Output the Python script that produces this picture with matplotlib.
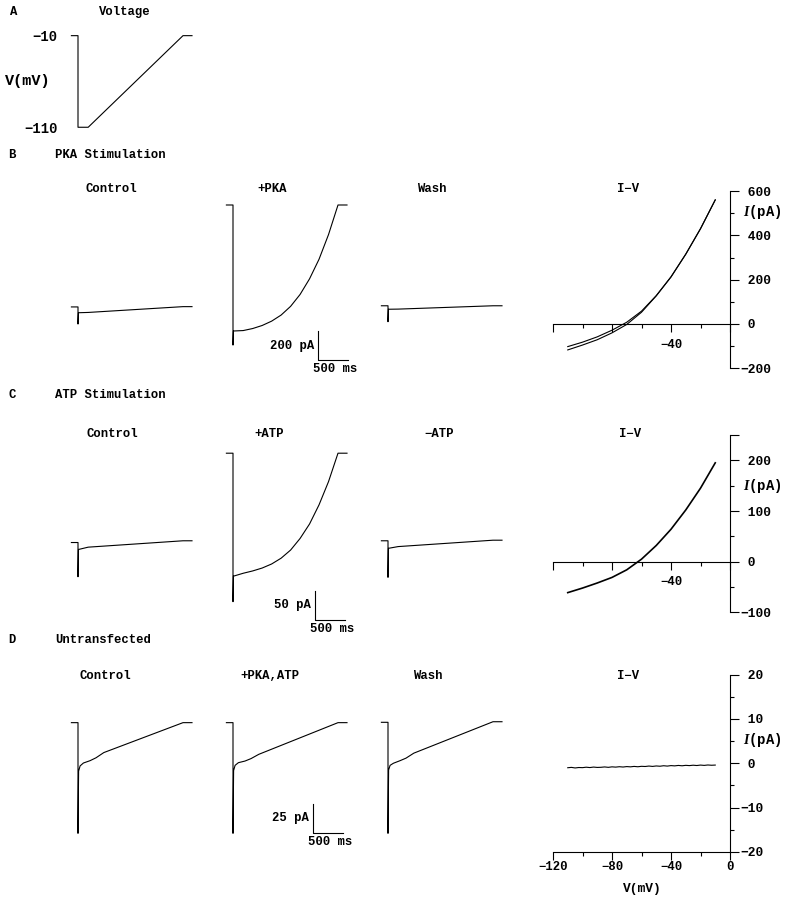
import matplotlib
matplotlib.use("Agg")
import matplotlib.pyplot as plt

W, H = 790, 899
PX_MS = 0.06            # 500 ms = 30 px
T_LO, T_HI = -200, 2000

plt.rcParams["font.family"] = ["Liberation Mono", "DejaVu Sans Mono"]
plt.rcParams["font.size"] = 8.8
plt.rcParams["font.weight"] = "bold"
plt.rcParams["mathtext.fontset"] = "custom"
plt.rcParams["mathtext.it"] = "Liberation Serif:italic:bold"
plt.rcParams["mathtext.rm"] = "Liberation Serif"
plt.rcParams["axes.linewidth"] = 0.8

# A: voltage protocol (ms, mV)
t_volt = [-110, 0, 0, 170, 1750, 1900]
v_volt = [-10, -10, -110, -110, -10, -10]

# current traces: time (ms), current (pA, zero = row baseline)
t_lin = [-110, 0, 0, 8, 170, 1750, 1900]
i_ctrl_b = [166, 166, 48, 126, 128, 168, 168]
i_wash_b = [174, 174, 64, 150, 151, 174, 174]
i_ctrl_c = [56, 56, -3, 44, 48, 59, 59]
i_matp_c = [59, 59, -4, 46, 49, 60, 60]

t_curve = [-110, 0, 0, 8, 170, 328, 486, 644, 802, 960, 1118, 1276, 1434, 1592, 1750, 1900]
i_pka_b = [869, 869, -97, 0, 3, 17, 38, 68, 110, 170, 252, 360, 495, 665, 869, 869]
i_patp_c = [210, 210, -46, -2, 3, 7, 12, 19, 29, 43, 63, 88, 121, 161, 210, 210]

t_untr = [-110, 0, 0, 10, 35, 90, 200, 300, 430, 1750, 1900]
i_ctrl_d = [32.8, 32.8, -62.6, -9, -4.5, -2, 0, 2.5, 7, 32.8, 32.8]
i_pkatp_d = [32.8, 32.8, -62.6, -8.5, -4, -1.7, -0.3, 1.8, 5.5, 32.8, 32.8]
i_wash_d = [33.1, 33.1, -62.6, -8, -4, -2.2, 0, 2.2, 6.5, 33.6, 33.6]

# I-V relations (mV, pA)
v_iv = [-110, -100, -90, -80, -70, -60, -50, -40, -30, -20, -10]
i_iv_b1 = [-102, -82, -58, -28, 8, 58, 128, 213, 315, 430, 560]
i_iv_b2 = [-117, -95, -71, -40, -2, 53, 127, 212, 315, 430, 560]
i_iv_c = [-61, -52, -42, -31, -16, 5, 32, 64, 102, 145, 195]
v_iv_d = [-110, -107.5, -105, -102.5, -100, -97.5, -95, -92.5, -90, -87.5, -85,
          -82.5, -80, -77.5, -75, -72.5, -70, -67.5, -65, -62.5, -60, -57.5,
          -55, -52.5, -50, -47.5, -45, -42.5, -40, -37.5, -35, -32.5, -30,
          -27.5, -25, -22.5, -20, -17.5, -15, -12.5, -10]
i_iv_d = [-1.00, -0.92, -1.05, -0.95, -0.98, -0.88, -0.96, -0.85, -0.93, -0.90,
          -0.82, -0.91, -0.80, -0.86, -0.77, -0.84, -0.74, -0.80, -0.70, -0.78,
          -0.68, -0.72, -0.62, -0.70, -0.60, -0.66, -0.55, -0.63, -0.52, -0.58,
          -0.48, -0.56, -0.46, -0.52, -0.43, -0.50, -0.40, -0.47, -0.38, -0.44,
          -0.40]

fig = plt.figure(figsize=(W / 100, H / 100), dpi=100)


def px_rect(left, top, width, height):
    return [left / W, 1 - (top + height) / H, width / W, height / H]


def label(x, y, s, ha="center", **kw):
    fig.text(x / W, 1 - y / H, s, ha=ha, va="center", **kw)


def trace_axes(x0, y0, px_pa, i_lo, i_hi, off=True):
    ax = fig.add_axes(px_rect(x0 + T_LO * PX_MS, y0 - i_hi * px_pa,
                              (T_HI - T_LO) * PX_MS, (i_hi - i_lo) * px_pa))
    ax.set_xlim(T_LO, T_HI)
    ax.set_ylim(i_lo, i_hi)
    ax.patch.set_visible(False)
    if off:
        ax.set_axis_off()
    return ax


def trace(ax, t, i):
    ax.plot(t, i, color="black", lw=0.8, clip_on=False)


def scale_bar(ax, t0, i0, amp, px_pa, text):
    ax.plot([t0, t0, t0 + 500], [i0 + amp, i0, i0], color="black", lw=0.8, clip_on=False)
    ax.text(t0 - 4 / PX_MS, i0 + amp / 2, text, ha="right", va="center")
    ax.text(t0 + 290, i0 - 9 / px_pa, "500 ms", ha="center", va="center")


def iv_axes(y_zero, px_pa, i_lo, i_hi):
    ax = fig.add_axes(px_rect(553, y_zero - i_hi * px_pa, 177, (i_hi - i_lo) * px_pa))
    ax.set_xlim(-120, 0)
    ax.set_ylim(i_lo, i_hi)
    ax.patch.set_visible(False)
    ax.spines["left"].set_visible(False)
    ax.spines["top"].set_visible(False)
    ax.yaxis.tick_right()
    ax.set_xticks([-120, -80, -40, 0])
    ax.set_xticks([-100, -60, -20], minor=True)
    ax.tick_params(axis="y", which="major", length=6.5, width=0.8, pad=1, labelsize=9.3)
    ax.tick_params(axis="y", which="minor", length=3, width=0.8)
    ax.tick_params(axis="x", which="major", length=6, width=0.8)
    ax.tick_params(axis="x", which="minor", length=3, width=0.8)
    return ax


def ylab(ax, i):
    ax.text(8.8, i, "$I$(pA)", ha="left", va="center", fontsize=10, clip_on=False)


# ---- A: voltage ----
axv = trace_axes(78, 26.5, 0.916, -115, -5, off=False)
axv.plot(t_volt, v_volt, color="black", lw=0.8, clip_on=False)
for s in axv.spines.values():
    s.set_visible(False)
axv.set_xticks([])
axv.set_yticks([-110, -10])
axv.set_yticklabels(["−110", "−10"])
axv.tick_params(axis="y", length=0, pad=6, labelsize=10)
label(14, 12, "A")
label(125, 12, "Voltage")
label(5, 81, "V(mV)", ha="left", fontsize=11)

# ---- B: PKA stimulation ----
label(12, 155, "B")
label(55, 155, "PKA Stimulation", ha="left")
rowB = dict(y0=331, px_pa=0.145, i_lo=-250, i_hi=900)
ax = trace_axes(78, **rowB)
trace(ax, t_lin, i_ctrl_b)
ax = trace_axes(233, **rowB)
trace(ax, t_curve, i_pka_b)
scale_bar(ax, 1417, -200, 200, 0.145, "200 pA")
ax = trace_axes(388, **rowB)
trace(ax, t_lin, i_wash_b)
for x, s in [(111, "Control"), (272, "+PKA"), (432, "Wash"), (628, "I−V")]:
    label(x, 189, s)

ax = iv_axes(324, 0.2216, -200, 600)
ax.spines["bottom"].set_position(("data", 0))
ax.plot(v_iv, i_iv_b1, color="black", lw=0.8)
ax.plot(v_iv, i_iv_b2, color="black", lw=0.8)
ax.set_xticklabels(["", "", "−40", ""])
ax.tick_params(axis="x", pad=4.5)
ax.set_yticks([-200, 0, 200, 400, 600])
ax.set_yticklabels(["−200", " 0", " 200", " 400", " 600"])
ax.set_yticks([-100, 100, 300, 500], minor=True)
ylab(ax, 505)

# ---- C: ATP stimulation ----
label(12, 395, "C")
label(55, 395, "ATP Stimulation", ha="left")
rowC = dict(y0=575, px_pa=0.58, i_lo=-90, i_hi=220)
ax = trace_axes(78, **rowC)
trace(ax, t_lin, i_ctrl_c)
ax = trace_axes(233, **rowC)
trace(ax, t_curve, i_patp_c)
scale_bar(ax, 1367, -77, 50, 0.58, "50 pA")
ax = trace_axes(388, **rowC)
trace(ax, t_lin, i_matp_c)
for x, s in [(112, "Control"), (269, "+ATP"), (439, "−ATP"), (630, "I−V")]:
    label(x, 434, s)

ax = iv_axes(561.7, 0.507, -100, 250)
ax.spines["bottom"].set_position(("data", 0))
ax.plot(v_iv, i_iv_c, color="black", lw=1.2)
ax.set_xticklabels(["", "", "−40", ""])
ax.tick_params(axis="x", pad=4.5)
ax.set_yticks([-100, 0, 100, 200, 250])
ax.set_yticklabels(["−100", " 0", " 100", " 200", ""])
ax.set_yticks([-50, 50, 150], minor=True)
ylab(ax, 150)

# ---- D: untransfected ----
label(12, 640, "D")
label(55, 640, "Untransfected", ha="left")
rowD = dict(y0=760.7, px_pa=1.16, i_lo=-75, i_hi=40)
ax = trace_axes(78, **rowD)
trace(ax, t_untr, i_ctrl_d)
ax = trace_axes(233, **rowD)
trace(ax, t_untr, i_pkatp_d)
scale_bar(ax, 1333, -62.3, 25, 1.16, "25 pA")
ax = trace_axes(388, **rowD)
trace(ax, t_untr, i_wash_d)
for x, s in [(105, "Control"), (270, "+PKA,ATP"), (428, "Wash"), (628, "I−V")]:
    label(x, 676, s)

ax = iv_axes(763.3, 4.435, -20, 20)
ax.plot(v_iv_d, i_iv_d, color="black", lw=0.8)
ax.set_xticklabels(["−120", "−80", "−40", "0"])
ax.tick_params(axis="x", pad=0.5)
ax.set_yticks([-20, -10, 0, 10, 20])
ax.set_yticklabels(["−20", "−10", " 0", " 10", " 20"])
ax.set_yticks([-15, -5, 5, 15], minor=True)
ylab(ax, 5.2)
label(642, 889, "V(mV)", fontsize=9.3)

fig.savefig("out.png", dpi=100)
